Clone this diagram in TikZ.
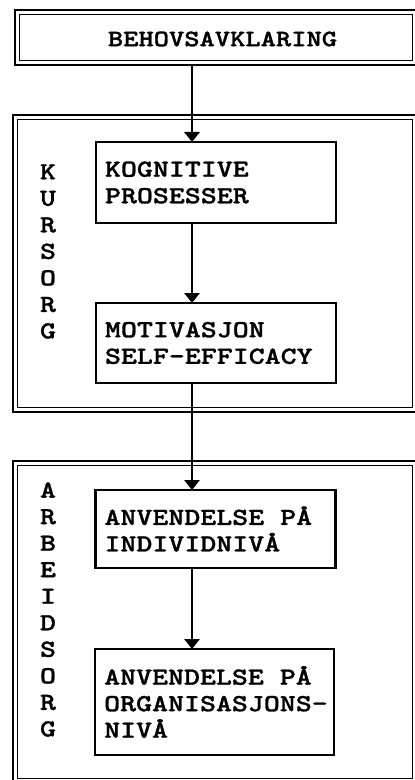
\documentclass[tikz,border=0pt]{standalone}
\usepackage{fontspec}
% a dark serif typewriter face, widened to the spacing of a Courier setting
\newfontfamily\boxfont{lmmonolt10-bold}[Extension=.otf, FakeStretch=1.24,
  FakeBold=1.2]
\usetikzlibrary{arrows.meta}
% one full character cell of the widened face
\newcommand\cellsp{\hspace{11.98pt}}
% thin inner line of a double frame, drawn just inside the thick outer one
\newcommand\innerframe[1]{%
  \draw[thinframe] ([shift={(3.6pt,-3.2pt)}]#1.north west)
    rectangle ([shift={(-3.6pt,3.4pt)}]#1.south east);}
\begin{document}
\begin{tikzpicture}[x=0.75pt,y=-0.75pt,
  frame/.style={draw, line width=2.2pt, inner sep=0pt, outer sep=0pt},
  thinframe/.style={draw, line width=0.9pt},
  stepbox/.style={draw, line width=1.6pt, outer sep=0pt, inner xsep=6.75pt,
    inner ysep=0pt, align=left, text width=166.5pt, minimum width=180pt,
    font=\fontsize{18.4}{19.9}\boxfont},
  vlabel/.style={align=center, inner sep=0pt,
    font=\fontsize{18.4}{19.9}\boxfont},
  link/.style={line width=1.5pt, -{Triangle[length=7.5pt,width=11.5pt]}}]
\useasboundingbox (0,0) rectangle (414,780);

% outer frames
\node[frame, minimum width=301.5pt, minimum height=41.25pt] (head) at (216,37.5) {};
\innerframe{head}
\node[frame, minimum width=303pt, minimum height=222.75pt] (kurs) at (215,263.5) {};
\innerframe{kurs}
\node[frame, minimum width=303pt, minimum height=241.5pt] (arb) at (215,622) {};
\innerframe{arb}

\node[inner sep=0pt, font=\fontsize{17.6}{19}\boxfont] (headtext) at (222.5,39) {BEHOVSAVKLARING};

% vertical labels
\node[vlabel] (kursorg) at (48,251.5) {K\\U\\R\\S\\O\\R\\G};
\node[vlabel] (arbeidsorg) at (48,609.5) {A\\R\\B\\E\\I\\D\\S\\O\\R\\G};

% inner steps
\node[stepbox, minimum height=60.75pt] (kog) at (216,182.5) {KOGNITIVE\\PROSESSER};
\node[stepbox, minimum height=60pt] (mot) at (216,343) {MOTIVASJON\\SELF-EFFICACY};
\node[stepbox, minimum height=58.5pt] (ind) at (215.5,529) {ANVENDELSE\cellsp PÅ\\INDIVIDNIVÅ};
\node[stepbox, minimum height=79.5pt, minimum width=179pt, text width=165.5pt] (org) at (214.5,702) {ANVENDELSE\cellsp PÅ\\\mbox{ORGANISASJONS-}\\NIVÅ};

% connectors along one vertical spine
\coordinate (spine) at (192,0);
\draw[link] (head.south -| spine) -- (kog.north -| spine);
\draw[link] (kog.south -| spine) -- (mot.north -| spine);
\draw[link] (mot.south -| spine) -- (ind.north -| spine);
\draw[link] (ind.south -| spine) -- (org.north -| spine);
\end{tikzpicture}
\end{document}
